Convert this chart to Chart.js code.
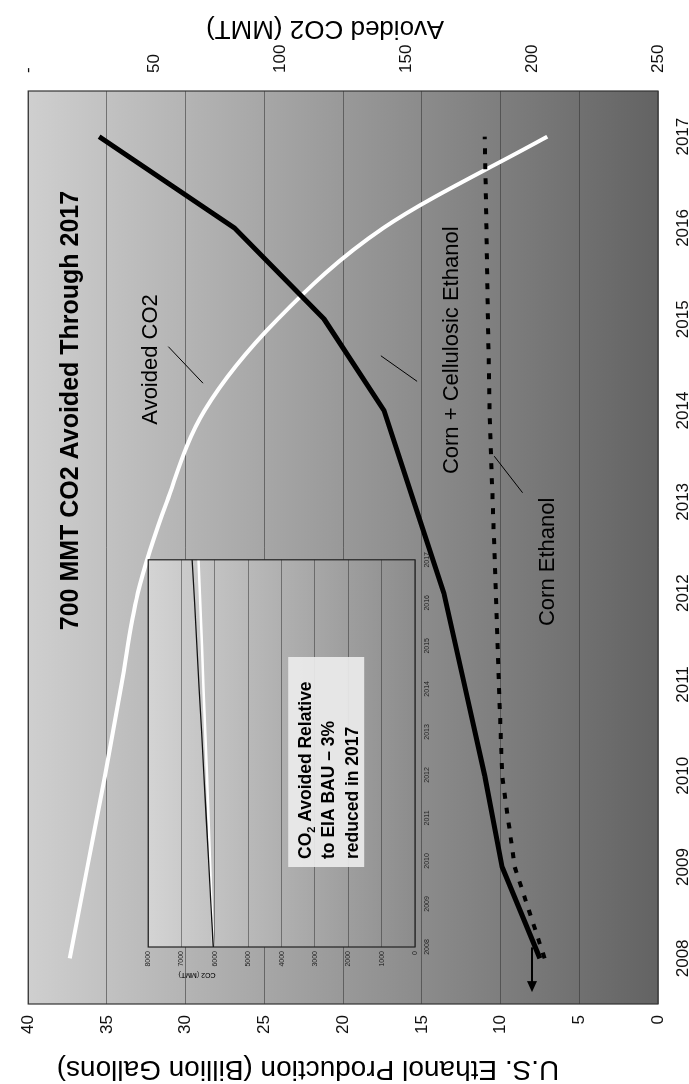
<!DOCTYPE html>
<html>
<head>
<meta charset="utf-8">
<script src="https://cdn.jsdelivr.net/npm/chart.js@4.4.0/dist/chart.umd.min.js"></script>
<style>
  html, body { margin: 0; padding: 0; background: #fff; overflow: hidden; }
  /* the chart is laid out landscape and turned a quarter turn */
  #page { position: absolute; left: 0; top: 0; width: 1084px; height: 689px;
          transform-origin: 0 0; transform: translateY(1084px) rotate(-90deg); }
  #mainChart { position: absolute; left: 0; top: 0; }
  #insetChart { position: absolute; left: 85px; top: 140px; }
</style>
</head>
<body>
<div id="page">
  <canvas id="mainChart" width="1084" height="689"></canvas>
  <canvas id="insetChart" width="455" height="300"></canvas>
</div>
<script>
const FONT = "'Liberation Sans', Arial, sans-serif";

const years = ["2008", "2009", "2010", "2011", "2012", "2013", "2014", "2015", "2016", "2017"];
// billion gallons
const cornCellulosic = [7.5, 9.9, 11.0, 12.3, 13.6, 15.5, 17.4, 21.2, 26.9, 35.5];
const cornOnly = [7.2, 9.1, 9.9, 10.1, 10.3, 10.5, 10.7, 10.8, 10.9, 11.0];
// MMT per year
const avoidedCO2 = [16.5, 23.5, 30.5, 37, 43.5, 55, 70, 99, 141, 206];

const ethanolTicks = { min: 0, max: 40, step: 5 };
const co2Ticks = { min: 0, max: 250, step: 50 };

// small chart: total CO2, business as usual vs with ethanol
const insetBAU = [6050, 6120, 6190, 6260, 6330, 6400, 6470, 6540, 6610, 6680];
const insetReduced = [6050, 6100, 6150, 6190, 6240, 6290, 6340, 6390, 6440, 6490];
const insetTicks = { min: 0, max: 8000, step: 1000 };

function plotGradient(ctx, area, light, dark) {
  const g = ctx.createLinearGradient(0, area.top, 0, area.bottom);
  g.addColorStop(0, light);
  g.addColorStop(1, dark);
  return g;
}

const backdrop = {
  id: "backdrop",
  beforeDraw(chart, args, opts) {
    const { ctx, chartArea: a } = chart;
    ctx.save();
    ctx.fillStyle = plotGradient(ctx, a, opts.light, opts.dark);
    ctx.fillRect(a.left, a.top, a.right - a.left, a.bottom - a.top);
    ctx.restore();
  },
  afterDraw(chart, args, opts) {
    const { ctx, chartArea: a } = chart;
    ctx.save();
    ctx.strokeStyle = opts.border;
    ctx.lineWidth = 1.2;
    ctx.strokeRect(a.left, a.top, a.right - a.left, a.bottom - a.top);
    ctx.restore();
  }
};

function line(ctx, x1, y1, x2, y2, w) {
  ctx.beginPath();
  ctx.lineWidth = w;
  ctx.moveTo(x1, y1);
  ctx.lineTo(x2, y2);
  ctx.stroke();
}

// titles, callouts and the arrow on the big chart
const notes = {
  id: "notes",
  afterDatasetsDraw(chart) {
    const { ctx } = chart;
    const x = chart.scales.x, yL = chart.scales.yL;
    const px = i => x.getPixelForValue(i), py = v => yL.getPixelForValue(v);
    ctx.save();
    ctx.fillStyle = "#000";
    ctx.strokeStyle = "#000";
    ctx.textBaseline = "middle";
    ctx.textAlign = "center";

    ctx.font = "bold 25px " + FONT;
    ctx.fillText("700 MMT CO2 Avoided Through 2017", px(6), py(37.3));

    ctx.font = "22px " + FONT;
    ctx.fillText("Avoided CO2", px(6.56), py(32.2));
    line(ctx, px(6.7), py(31.1), px(6.3), py(28.9), 1);

    ctx.fillText("Corn + Cellulosic Ethanol", px(6.66), py(13.1));
    line(ctx, px(6.6), py(17.6), px(6.32), py(15.3), 1);

    ctx.textAlign = "left";
    ctx.fillText("Corn Ethanol", px(3.64), py(7.0));
    line(ctx, px(5.1), py(8.6), px(5.5), py(10.4), 1);

    // arrow back from the 2008 start
    const ay = py(8.0);
    const ax0 = px(0.12), ax1 = px(-0.37);
    line(ctx, ax0, ay, ax1 + 6, ay, 2);
    ctx.beginPath();
    ctx.moveTo(ax1, ay);
    ctx.lineTo(ax1 + 11, ay - 5);
    ctx.lineTo(ax1 + 11, ay + 5);
    ctx.closePath();
    ctx.fill();

    // axis titles
    ctx.textAlign = "center";
    ctx.font = "28px " + FONT;
    ctx.save();
    ctx.translate(15, 308);
    ctx.rotate(-Math.PI / 2);
    ctx.fillText("U.S. Ethanol Production (Billion Gallons)", 0, 0);
    ctx.restore();
    ctx.font = "26px " + FONT;
    ctx.save();
    ctx.translate(1056, 325);
    ctx.rotate(-Math.PI / 2);
    ctx.fillText("Avoided CO2 (MMT)", 0, 0);
    ctx.restore();
    ctx.restore();
  }
};

const tickFont = { family: FONT, size: 17 };

new Chart(document.getElementById("mainChart"), {
  type: "line",
  data: {
    labels: years,
    datasets: [
      { label: "Avoided CO2", data: avoidedCO2, yAxisID: "yR", borderColor: "#fff", borderWidth: 4,
        cubicInterpolationMode: "monotone", pointRadius: 0, order: 3 },
      { label: "Corn Ethanol", data: cornOnly, yAxisID: "yL", borderColor: "#000", borderWidth: 4,
        borderDash: [6, 9], tension: 0, pointRadius: 0, order: 2 },
      { label: "Corn + Cellulosic Ethanol", data: cornCellulosic, yAxisID: "yL", borderColor: "#000",
        borderWidth: 5, tension: 0, pointRadius: 0, order: 1 }
    ]
  },
  options: {
    responsive: false,
    animation: false,
    devicePixelRatio: 1,
    layout: { padding: { top: 21, left: 0, right: 0, bottom: 0 } },
    plugins: {
      legend: { display: false },
      tooltip: { enabled: false },
      backdrop: { light: "#cfcfcf", dark: "#636363", border: "#333" }
    },
    scales: {
      x: {
        offset: true,
        grid: { display: false, drawTicks: false },
        border: { display: false },
        ticks: { color: "#111", font: tickFont, padding: 15, maxRotation: 0 },
        afterFit(s) { s.height = 31; }
      },
      yL: {
        position: "left",
        min: ethanolTicks.min, max: ethanolTicks.max,
        ticks: { stepSize: ethanolTicks.step, color: "#111", font: tickFont, padding: 11 },
        grid: { color: "rgba(50,50,50,0.55)", lineWidth: 1, drawTicks: false },
        border: { display: false },
        afterFit(s) { s.width = 80; }
      },
      yR: {
        position: "right",
        reverse: true,
        min: co2Ticks.min, max: co2Ticks.max,
        ticks: { stepSize: co2Ticks.step, color: "#111", font: tickFont, padding: 18,
          callback: v => v === 0 ? "-" : v },
        grid: { display: false, drawTicks: false },
        border: { display: false },
        afterFit(s) { s.width = 91; }
      }
    }
  },
  plugins: [backdrop, notes]
});

// text box and axis title of the small chart
const insetNotes = {
  id: "insetNotes",
  afterDatasetsDraw(chart) {
    const { ctx, chartArea: a } = chart;
    ctx.save();
    ctx.fillStyle = "rgba(236,236,236,0.92)";
    ctx.fillRect(a.left + 80, a.top + 140, 210, 76);
    ctx.fillStyle = "#000";
    ctx.textBaseline = "middle";
    ctx.textAlign = "left";
    ctx.font = "bold 17.5px " + FONT;
    const tx = a.left + 88;
    ctx.fillText("CO", tx, a.top + 158);
    const w = ctx.measureText("CO").width;
    ctx.font = "bold 11px " + FONT;
    ctx.fillText("2", tx + w, a.top + 164);
    const w2 = ctx.measureText("2").width;
    ctx.font = "bold 17.5px " + FONT;
    ctx.fillText(" Avoided Relative", tx + w + w2, a.top + 158);
    ctx.fillText("to EIA BAU \u2013 3%", tx, a.top + 181);
    ctx.fillText("reduced in 2017", tx, a.top + 205);

    ctx.font = "7px " + FONT;
    ctx.textAlign = "center";
    ctx.save();
    ctx.translate(24, 57);
    ctx.rotate(-Math.PI / 2);
    ctx.fillText("CO2 (MMT)", 0, 0);
    ctx.restore();
    ctx.restore();
  }
};

new Chart(document.getElementById("insetChart"), {
  type: "line",
  data: {
    labels: years,
    datasets: [
      { label: "BAU", data: insetBAU, borderColor: "#111", borderWidth: 1.3, pointRadius: 0, tension: 0, order: 1 },
      { label: "With ethanol", data: insetReduced, borderColor: "#fff", borderWidth: 2.5, pointRadius: 0, tension: 0, order: 2 }
    ]
  },
  options: {
    responsive: false,
    animation: false,
    devicePixelRatio: 1,
    layout: { padding: { top: 7, right: 11, left: 0, bottom: 0 } },
    plugins: {
      legend: { display: false },
      tooltip: { enabled: false },
      backdrop: { light: "#d4d4d4", dark: "#8c8c8c", border: "#222" }
    },
    scales: {
      x: {
        grid: { display: false, drawTicks: false },
        border: { display: false },
        ticks: { color: "#222", font: { family: FONT, size: 7 }, padding: 8, maxRotation: 0, autoSkip: false },
        afterFit(s) { s.height = 25; }
      },
      y: {
        min: insetTicks.min, max: insetTicks.max,
        ticks: { stepSize: insetTicks.step, color: "#222", font: { family: FONT, size: 7 }, padding: 4,
          callback: v => String(v) },
        grid: { color: "rgba(40,40,40,0.6)", lineWidth: 0.8, drawTicks: false },
        border: { display: false },
        afterFit(s) { s.width = 52; }
      }
    }
  },
  plugins: [backdrop, insetNotes]
});
</script>
</body>
</html>
